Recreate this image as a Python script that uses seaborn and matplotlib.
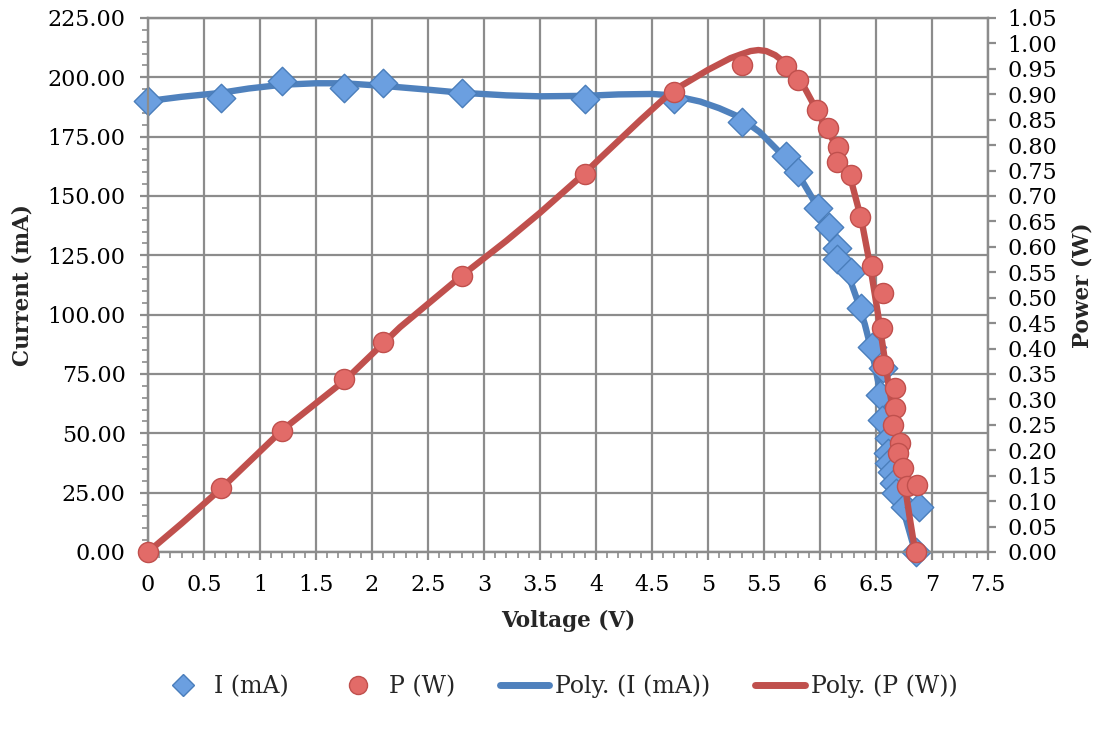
import numpy as np
import pandas as pd
import matplotlib
matplotlib.use("Agg")
import matplotlib.pyplot as plt
from matplotlib.ticker import MultipleLocator, FormatStrFormatter, FuncFormatter
from matplotlib.lines import Line2D
import seaborn as sns

# ---- data ----
voltage_i = [0.0, 0.65, 1.2, 1.75, 2.1, 2.8, 3.9, 4.7, 5.3, 5.7, 5.8, 5.98, 6.08, 6.15, 6.15,
             6.28, 6.37, 6.46, 6.56, 6.54, 6.55, 6.62, 6.61, 6.62, 6.64, 6.66, 6.68, 6.76, 6.88, 6.86]
current_ma = [190.0, 191.5, 198.5, 195.5, 197.5, 193.5, 191.0, 191.0, 181.0, 167.0, 160.0, 145.0,
              137.0, 128.0, 123.5, 118.0, 103.0, 86.5, 77.5, 66.0, 55.6, 48.0, 41.7, 37.5, 33.7,
              29.0, 24.9, 19.0, 19.0, 0.0]
voltage_p = [0.0, 0.65, 1.2, 1.75, 2.1, 2.8, 3.9, 4.7, 5.3, 5.7, 5.8, 5.97, 6.07, 6.16, 6.15,
             6.28, 6.36, 6.46, 6.56, 6.55, 6.56, 6.67, 6.67, 6.65, 6.71, 6.70, 6.74, 6.78, 6.87, 6.86]
power_w = [0.000, 0.125, 0.238, 0.340, 0.413, 0.543, 0.744, 0.904, 0.957, 0.955, 0.928, 0.869,
           0.834, 0.796, 0.767, 0.741, 0.659, 0.562, 0.509, 0.440, 0.368, 0.322, 0.283, 0.250,
           0.214, 0.195, 0.165, 0.129, 0.132, 0.000]

# polynomial trendlines as drawn in the reference
trend_v_i = [0.0, 0.3, 0.64, 0.9, 1.2, 1.5, 1.75, 2.1, 2.5, 2.8, 3.2, 3.5, 3.9, 4.2, 4.5,
             4.68, 4.93, 5.1, 5.27, 5.46, 5.67, 5.82, 5.97, 6.12, 6.2, 6.27, 6.33, 6.4, 6.47,
             6.54, 6.61, 6.68, 6.76, 6.85]
trend_i = [190.0, 191.8, 193.4, 195.3, 196.9, 197.5, 197.5, 196.4, 194.8, 193.5, 192.4, 192.0,
           192.2, 192.8, 193.0, 192.4, 189.8, 187.0, 183.5, 177.0, 167.0, 158.0, 146.0, 131.0,
           122.5, 114.5, 106.5, 96.0, 83.0, 67.0, 50.0, 33.0, 15.0, 0.0]
trend_v_p = [0.0, 0.3, 0.66, 1.2, 1.76, 2.25, 2.8, 3.2, 3.5, 3.9, 4.04, 4.4, 4.68, 5.0, 5.2,
             5.3, 5.38, 5.45, 5.52, 5.6, 5.67, 5.75, 5.82, 5.97, 6.12, 6.27, 6.37, 6.45, 6.52,
             6.61, 6.71, 6.80, 6.85]
trend_p = [0.0, 0.056, 0.126, 0.240, 0.338, 0.442, 0.543, 0.612, 0.667, 0.745, 0.775, 0.850,
           0.906, 0.948, 0.971, 0.979, 0.985, 0.987, 0.985, 0.977, 0.965, 0.950, 0.930, 0.869,
           0.808, 0.737, 0.653, 0.560, 0.465, 0.332, 0.200, 0.069, 0.0]

legend_labels = ["I (mA)", "P (W)", "Poly. (I (mA))", "Poly. (P (W))"]
x_label = "Voltage (V)"
y_label_left = "Current (mA)"
y_label_right = "Power (W)"

# ---- styles ----
BLUE_LINE = "#4F81BD"
BLUE_FILL = "#6B9FE0"
BLUE_EDGE = "#4A7EBB"
RED_LINE = "#C0504D"
RED_FILL = "#E26B68"
RED_EDGE = "#C0504D"
GRID = "#8C8C8C"

sns.set_theme(style="white")
plt.rcParams["font.family"] = ["DejaVu Serif", "Liberation Serif"]

df_i = pd.DataFrame({"V": voltage_i, "I": current_ma})
df_p = pd.DataFrame({"V": voltage_p, "P": power_w})
df_ti = pd.DataFrame({"V": trend_v_i, "I": trend_i})
df_tp = pd.DataFrame({"V": trend_v_p, "P": trend_p})

fig = plt.figure(figsize=(11.09, 7.33), dpi=100)
ax = fig.add_axes([148 / 1109, (733 - 552) / 733, (988 - 148) / 1109, (552 - 18) / 733])
ax2 = ax.twinx()

# left axis: current
sns.lineplot(data=df_ti, x="V", y="I", ax=ax, color=BLUE_LINE, linewidth=4.6,
             estimator=None, sort=False, zorder=3, solid_joinstyle="round", solid_capstyle="round")
sns.scatterplot(data=df_i, x="V", y="I", ax=ax, marker="D", s=210, color=BLUE_FILL,
                edgecolor=BLUE_EDGE, linewidth=1.0, zorder=4, clip_on=False)

# right axis: power
sns.lineplot(data=df_tp, x="V", y="P", ax=ax2, color=RED_LINE, linewidth=4.6,
             estimator=None, sort=False, zorder=3, solid_joinstyle="round", solid_capstyle="round")
sns.scatterplot(data=df_p, x="V", y="P", ax=ax2, marker="o", s=210, color=RED_FILL,
                edgecolor=RED_EDGE, linewidth=1.0, zorder=4, clip_on=False)

ax.set_xlim(0, 7.5)
ax.set_ylim(0, 225)
ax2.set_ylim(0, 1.05)

ax.xaxis.set_major_locator(MultipleLocator(0.5))
ax.xaxis.set_minor_locator(MultipleLocator(0.1))
ax.xaxis.set_major_formatter(FuncFormatter(lambda v, p: f"{v:g}"))
ax.yaxis.set_major_locator(MultipleLocator(25))
ax.yaxis.set_minor_locator(MultipleLocator(5))
ax.yaxis.set_major_formatter(FormatStrFormatter("%.2f"))
ax2.yaxis.set_major_locator(MultipleLocator(0.05))
ax2.yaxis.set_major_formatter(FormatStrFormatter("%.2f"))

ax.grid(True, which="major", color=GRID, linewidth=1.6)
ax2.grid(False)
ax.set_axisbelow(True)

for a in (ax, ax2):
    for sp in a.spines.values():
        sp.set_color(GRID)
        sp.set_linewidth(1.6)
        sp.set_visible(True)

ax.tick_params(axis="both", which="major", direction="out", length=6, width=1.6,
               color=GRID, labelsize=16, labelcolor="black", pad=10)
ax.tick_params(axis="both", which="minor", direction="out", length=4, width=1.2, color=GRID)
ax.tick_params(axis="y", which="both", left=True, right=False)
ax.tick_params(axis="x", which="both", bottom=True)
ax2.tick_params(axis="y", which="major", direction="out", length=6, width=1.6,
                color=GRID, labelsize=16, labelcolor="black", pad=8, right=True)

ax.set_xlabel(x_label, fontsize=15.5, fontweight="bold", labelpad=10)
ax.set_ylabel(y_label_left, fontsize=15.5, fontweight="bold", labelpad=10)
ax2.set_ylabel(y_label_right, fontsize=15.5, fontweight="bold", labelpad=10)

ax.patch.set_visible(False)
ax2.set_zorder(ax.get_zorder() + 1)
ax2.patch.set_visible(False)

handles = [
    Line2D([], [], linestyle="none", marker="D", markersize=11, markerfacecolor=BLUE_FILL,
           markeredgecolor=BLUE_EDGE),
    Line2D([], [], linestyle="none", marker="o", markersize=13, markerfacecolor=RED_FILL,
           markeredgecolor=RED_EDGE),
    Line2D([], [], color=BLUE_LINE, linewidth=5, solid_capstyle="round"),
    Line2D([], [], color=RED_LINE, linewidth=5, solid_capstyle="round"),
]
fig.legend(handles, legend_labels, loc="center", bbox_to_anchor=(0.503, 0.064), ncol=4,
           frameon=False, fontsize=17, handlelength=2.1, columnspacing=1.9, handletextpad=0.25)

fig.savefig("out.png", dpi=100)
